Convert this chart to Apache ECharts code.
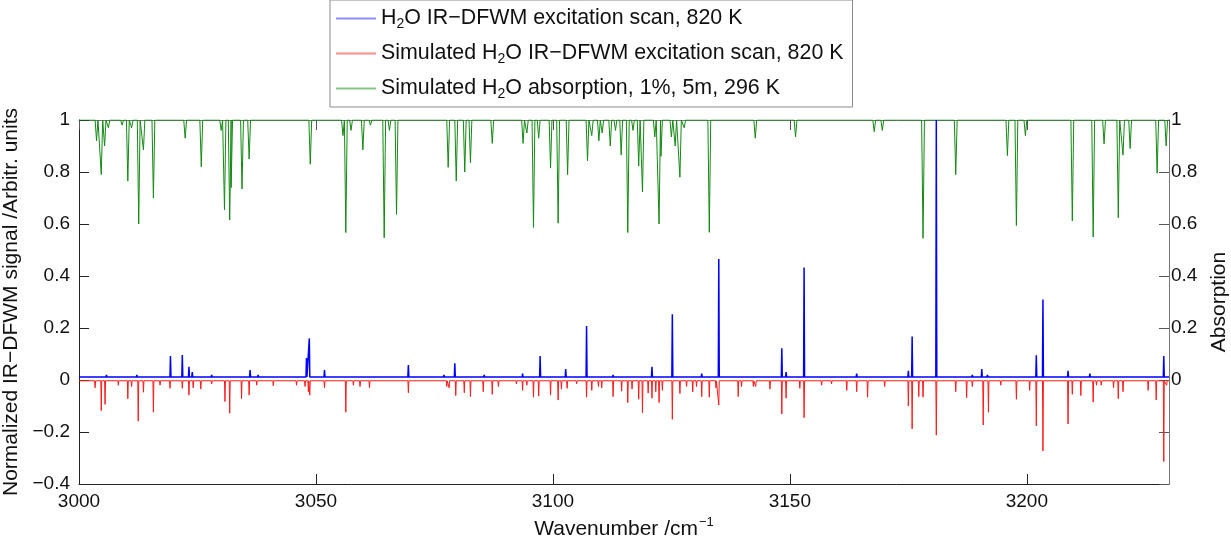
<!DOCTYPE html>
<html>
<head>
<meta charset="utf-8">
<script src="https://cdn.jsdelivr.net/npm/echarts@6/dist/echarts.min.js"></script>
<style>
html,body{margin:0;padding:0;background:#fff;}
#chart{width:1231px;height:541px;}
</style>
</head>
<body>
<div id="chart"></div>
<script>
// ---------- data (peak positions in cm^-1 and peak values) ----------
const xTicks = [3000, 3050, 3100, 3150, 3200];
const yTicks = [-0.4, -0.2, 0, 0.2, 0.4, 0.6, 0.8, 1];

// Measured IR-DFWM excitation scan (blue): baseline and peaks
const dfwmBase = 0.012;
const dfwmPos = [3005.8, 3012.2, 3019.3, 3021.8, 3023.2, 3023.9, 3028.0, 3036.1, 3037.8, 3042.0, 3048.0, 3048.6, 3051.8,
  3069.5, 3077.0, 3079.3, 3085.5, 3093.6, 3097.3, 3102.7, 3107.1, 3112.7, 3120.9, 3125.2, 3131.4, 3135.0,
  3148.3, 3149.2, 3153.0, 3164.1, 3175.0, 3175.8, 3180.9, 3188.5, 3190.5, 3191.7, 3202.0, 3203.4, 3208.7, 3213.3, 3228.9];
const dfwmVal = [0.02, 0.02, 0.092, 0.096, 0.051, 0.03, 0.02, 0.038, 0.02, 0.018, 0.085, 0.16, 0.038,
  0.058, 0.02, 0.064, 0.02, 0.025, 0.092, 0.042, 0.208, 0.02, 0.051, 0.253, 0.025, 0.465,
  0.122, 0.03, 0.433, 0.025, 0.035, 0.167, 1.0, 0.02, 0.042, 0.02, 0.095, 0.31, 0.035, 0.025, 0.092];

// Simulated IR-DFWM excitation scan (red): baseline and peaks
const simBase = -0.003;
const simPos = [3003.4, 3004.7, 3005.5, 3008.3, 3010.3, 3011.1, 3012.5, 3013.6, 3015.7, 3017.1, 3019.2, 3021.8, 3023.2,
  3024.1, 3025.7, 3028.0, 3030.8, 3031.8, 3034.3, 3035.9, 3037.5, 3041.0, 3045.9, 3047.7, 3048.4, 3048.7, 3051.8,
  3056.3, 3057.9, 3059.3, 3061.3, 3069.5, 3077.6, 3078.1, 3079.5, 3081.3, 3082.6, 3085.3, 3087.2, 3088.5, 3092.3,
  3093.6, 3094.5, 3095.9, 3097.0, 3099.5, 3101.1, 3101.8, 3103.0, 3105.0, 3107.1, 3108.2, 3109.6, 3110.3, 3112.7,
  3114.5, 3115.8, 3116.7, 3118.1, 3118.9, 3120.1, 3120.9, 3121.7, 3122.4, 3123.1, 3125.2, 3126.8, 3128.2, 3129.5,
  3130.3, 3131.4, 3133.0, 3134.4, 3135.0, 3139.1, 3139.8, 3142.3, 3142.8, 3145.8, 3148.3, 3149.2, 3152.1, 3153.0,
  3156.7, 3158.8, 3162.0, 3164.1, 3166.4, 3170.0, 3175.0, 3175.8, 3177.2, 3178.1, 3180.9, 3185.0, 3187.3, 3188.5,
  3190.8, 3191.9, 3194.5, 3197.8, 3200.6, 3202.0, 3203.4, 3208.7, 3209.6, 3211.4, 3214.0, 3214.7, 3215.7, 3218.3,
  3219.3, 3220.3, 3225.6, 3227.3, 3228.9, 3229.5];
const simVal = [-0.03, -0.118, -0.094, -0.02, -0.072, -0.025, -0.158, -0.047, -0.124, -0.02, -0.032, -0.032, -0.058,
  -0.03, -0.035, -0.015, -0.083, -0.128, -0.072, -0.058, -0.02, -0.022, -0.02, -0.025, -0.045, -0.058, -0.03,
  -0.124, -0.02, -0.025, -0.03, -0.049, -0.025, -0.03, -0.06, -0.049, -0.064, -0.045, -0.055, -0.025, -0.015,
  -0.04, -0.02, -0.066, -0.062, -0.058, -0.077, -0.035, -0.032, -0.015, -0.066, -0.04, -0.025, -0.03, -0.064,
  -0.043, -0.087, -0.035, -0.074, -0.126, -0.05, -0.07, -0.045, -0.087, -0.04, -0.151, -0.052, -0.025, -0.046,
  -0.025, -0.064, -0.066, -0.03, -0.096, -0.064, -0.025, -0.025, -0.025, -0.035, -0.131, -0.07, -0.032, -0.145,
  -0.02, -0.015, -0.04, -0.045, -0.066, -0.025, -0.1, -0.188, -0.064, -0.066, -0.212, -0.045, -0.068, -0.025,
  -0.173, -0.124, -0.02, -0.074, -0.04, -0.176, -0.273, -0.169, -0.055, -0.06, -0.085, -0.02, -0.02, -0.03,
  -0.072, -0.045, -0.04, -0.077, -0.314, -0.02];

// Simulated absorption (green, right axis): baseline 1 with dips
const absBase = 1;
const absPos = [3003.7, 3004.7, 3005.4, 3006.2, 3009.1, 3010.3, 3011.1, 3012.6, 3013.6, 3015.7, 3022.4, 3025.8,
  3030.0, 3030.7, 3031.8, 3032.1, 3034.4, 3035.9, 3048.8, 3055.7, 3056.3, 3057.4, 3059.9, 3061.5, 3064.4, 3065.5,
  3067.0, 3077.9, 3079.6, 3081.4, 3082.6, 3087.2, 3093.7, 3094.5, 3095.9, 3097.0, 3099.5, 3101.1, 3103.1, 3107.3,
  3108.2, 3109.7, 3110.4, 3112.1, 3113.2, 3114.4, 3115.8, 3116.9, 3118.1, 3118.9, 3121.5, 3122.4, 3122.8, 3125.0,
  3125.8, 3126.8, 3127.7, 3133.0, 3142.7, 3151.2, 3167.8, 3169.5, 3178.1, 3185.0, 3195.9, 3197.8, 3199.7, 3209.6,
  3214.0, 3216.3, 3219.3, 3220.3, 3221.8, 3227.5, 3229.4];
const absVal = [0.92, 0.79, 0.90, 0.97, 0.98, 0.765, 0.97, 0.60, 0.885, 0.70, 0.93, 0.82,
  0.96, 0.655, 0.615, 0.74, 0.735, 0.85, 0.83, 0.94, 0.567, 0.96, 0.885, 0.98, 0.547, 0.96,
  0.637, 0.818, 0.765, 0.80, 0.836, 0.91, 0.91, 0.95, 0.587, 0.93, 0.815, 0.603, 0.79, 0.843,
  0.94, 0.92, 0.95, 0.90, 0.96, 0.865, 0.567, 0.96, 0.823, 0.723, 0.935, 0.60, 0.86, 0.935,
  0.90, 0.78, 0.97, 0.568, 0.93, 0.935, 0.955, 0.96, 0.545, 0.79, 0.863, 0.594, 0.94, 0.612,
  0.55, 0.908, 0.624, 0.865, 0.89, 0.795, 0.90];

const xMin = 3000, xMax = 3230;

// ---------- build line data: each peak drawn as a narrow spike on its baseline ----------
function spikes(pos, val, base, w) {
  const idx = pos.map((p, i) => i).sort((a, b) => pos[a] - pos[b]);
  const d = [[xMin, base]];
  idx.forEach(i => {
    d.push([pos[i] - w, base]);
    d.push([pos[i], val[i]]);
    d.push([pos[i] + w, base]);
  });
  d.push([xMax, base]);
  return d;
}

const nameBlue = 'H2O IR−DFWM excitation scan, 820 K';
const nameRed = 'Simulated H2O IR−DFWM excitation scan, 820 K';
const nameGreen = 'Simulated H2O absorption, 1%, 5m, 296 K';

const FONT = '"Liberation Sans", Arial, sans-serif';
const fmt = v => {
  const r = Math.round(v * 10) / 10;
  return String(r).replace('-', '−');
};

const chart = echarts.init(document.getElementById('chart'));
chart.setOption({
  animation: false,
  backgroundColor: '#fff',
  textStyle: { fontFamily: FONT },
  grid: { left: 79, right: 62, top: 120, bottom: 57, containLabel: false, outerBoundsMode: 'none' },
  legend: {
    orient: 'vertical',
    left: 330, top: 0,
    padding: [6, 9, 6, 6],
    itemGap: 10,
    itemWidth: 40, itemHeight: 2,
    icon: 'rect',
    borderColor: '#8a8a8a', borderWidth: 1,
    backgroundColor: '#fff',
    data: [
      { name: nameBlue, itemStyle: { color: '#8c8cff', borderWidth: 0 } },
      { name: nameRed, itemStyle: { color: '#ff8c8c', borderWidth: 0 } },
      { name: nameGreen, itemStyle: { color: '#86c486', borderWidth: 0 } }
    ],
    formatter: n => n.replace('H2O', '{n|H}{s|2}{n|O}').replace(/^([^{]*)\{/, '{n|$1}{').replace(/\}([^{}]+)$/, '}{n|$1}'),
    textStyle: {
      fontFamily: FONT, fontSize: 21.4, color: '#111',
      rich: {
        n: { fontFamily: FONT, fontSize: 21.4, color: '#111', lineHeight: 23 },
        s: { fontFamily: FONT, fontSize: 14, color: '#111', padding: [11, 0, 0, 0], lineHeight: 23 }
      }
    }
  },
  xAxis: [{
    type: 'value', min: xMin, max: xMax, interval: 50,
    position: 'bottom',
    name: '{n|Wavenumber /cm}{sup|−1}', nameLocation: 'middle', nameGap: 28,
    nameTextStyle: {
      rich: {
        n: { fontFamily: FONT, fontSize: 21, color: '#111' },
        sup: { fontFamily: FONT, fontSize: 13, color: '#111', padding: [0, 0, 13, 1] }
      }
    },
    axisLine: { onZero: false, lineStyle: { color: '#222', width: 1 } },
    axisTick: { inside: true, length: 10, lineStyle: { color: '#222' } },
    axisLabel: { fontSize: 19, color: '#111', margin: 8, fontFamily: FONT, showMaxLabel: false,
      formatter: v => (v % 50 === 0 ? String(v) : '') },
    splitLine: { show: false }
  }, {
    type: 'value', min: xMin, max: xMax, interval: 50,
    position: 'top',
    axisLine: { onZero: false, lineStyle: { color: '#777', width: 1 } },
    axisTick: { inside: true, length: 10, lineStyle: { color: '#555' } },
    axisLabel: { show: false },
    splitLine: { show: false }
  }],
  yAxis: [{
    type: 'value', min: -0.4, max: 1, interval: 0.2,
    position: 'left',
    name: 'Normalized IR−DFWM signal /Arbitr. units', nameLocation: 'middle', nameGap: 55, nameRotate: 90,
    nameTextStyle: { fontFamily: FONT, fontSize: 21, color: '#111' },
    axisLine: { show: true, onZero: false, lineStyle: { color: '#222' } },
    axisTick: { show: true, inside: true, length: 10, lineStyle: { color: '#222' } },
    axisLabel: { fontSize: 19, color: '#111', margin: 9, fontFamily: FONT, formatter: fmt },
    splitLine: { show: false }
  }, {
    type: 'value', min: -0.4, max: 1, interval: 0.2,
    position: 'right',
    name: 'Absorption', nameLocation: 'middle', nameGap: 27, nameRotate: 90,
    nameTextStyle: { fontFamily: FONT, fontSize: 21, color: '#111' },
    axisLine: { show: true, onZero: false, lineStyle: { color: '#777' } },
    axisTick: { show: true, inside: true, length: 10, lineStyle: { color: '#555' } },
    axisLabel: { fontSize: 19, color: '#111', margin: 2, fontFamily: FONT,
      formatter: v => (v < -1e-9 ? '' : fmt(v)) },
    splitLine: { show: false }
  }],
  series: [{
    name: nameGreen, type: 'line', xAxisIndex: 0, yAxisIndex: 1,
    data: spikes(absPos, absVal, absBase, 0.3),
    showSymbol: false, symbol: 'none', sampling: null,
    lineStyle: { color: '#138a13', width: 1 }, itemStyle: { color: '#138a13' }, z: 2
  }, {
    name: nameRed, type: 'line', xAxisIndex: 0, yAxisIndex: 0,
    data: spikes(simPos, simVal, simBase, 0.1),
    showSymbol: false, symbol: 'none',
    lineStyle: { color: '#ff1a1a', width: 1 }, itemStyle: { color: '#ff1a1a' }, z: 3
  }, {
    name: nameBlue, type: 'line', xAxisIndex: 0, yAxisIndex: 0,
    data: spikes(dfwmPos, dfwmVal, dfwmBase, 0.1),
    showSymbol: false, symbol: 'none',
    lineStyle: { color: '#0000ff', width: 1.5 }, itemStyle: { color: '#0000ff' }, z: 4
  }]
});
</script>
</body>
</html>
